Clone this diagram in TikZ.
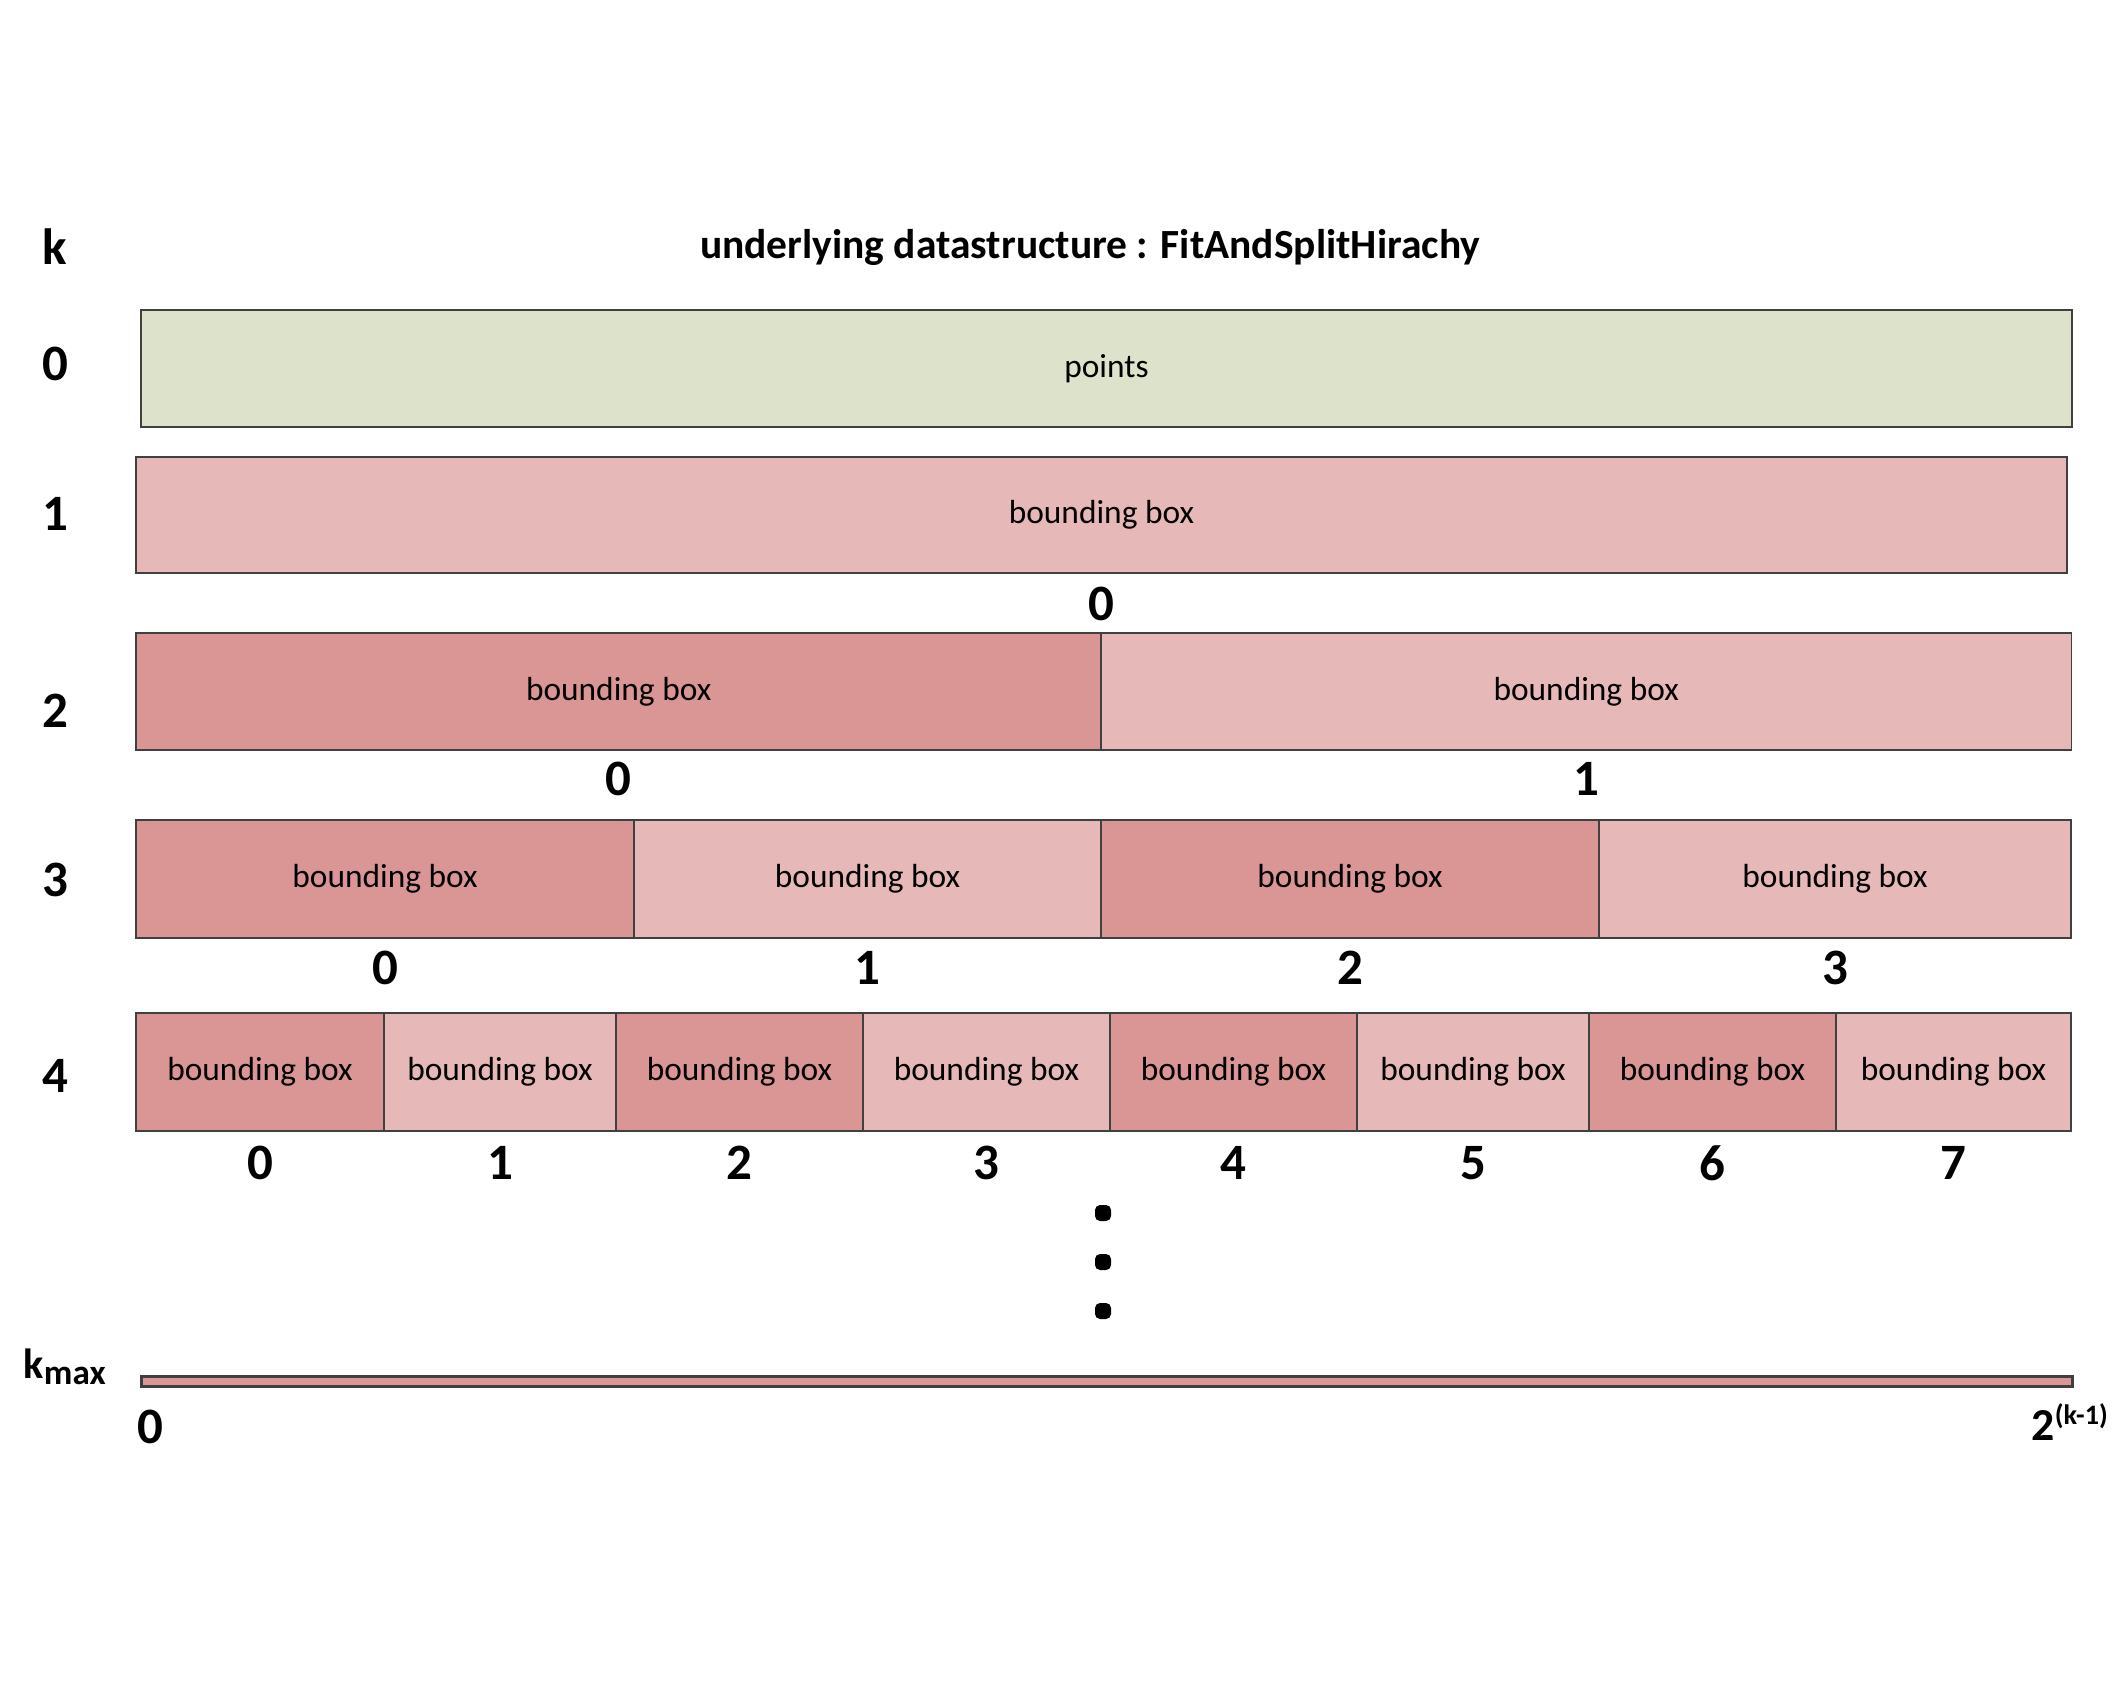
\documentclass[tikz,border=0pt]{standalone}
\usepackage{fontspec}
\setmainfont{Carlito}
\usepackage{tikz}
\usepackage{xcolor}
\usetikzlibrary{positioning, calc}

\definecolor{ptgreen}{HTML}{DDE2CB}
\definecolor{bblight}{HTML}{E6B8B7}
\definecolor{bbdark}{HTML}{DA9694}
\definecolor{edgegray}{HTML}{404040}

\tikzset{
  cell/.style={draw=edgegray, line width=0.5pt, rectangle, inner sep=0pt,
    anchor=north west, font=\fontsize{9.5}{11}\selectfont},
  idx/.style={font=\bfseries\fontsize{14.5}{16}\selectfont, inner sep=0pt},
  lvl/.style={font=\bfseries\fontsize{14.5}{16}\selectfont, inner sep=0pt},
  dotmark/.style={rectangle, rounded corners=0.05cm, fill=black, inner sep=0pt, minimum size=0.16cm}
}

\begin{document}
\begin{tikzpicture}[x=0.01cm, y=-0.01cm]
\useasboundingbox (0,0) rectangle (2116,1683);

% Title and level column
\node[lvl] (klab) at (55,247) {k};
\node[font=\bfseries\fontsize{11.8}{14}\selectfont, inner sep=0pt] (title) at (1090,247) {underlying datastructure : FitAndSplitHirachy};
\foreach \k/\y in {0/364, 1/514, 2/711, 3/880, 4/1076} {
  \node[lvl] (k\k) at (55,\y) {\k};
}
\node[font=\bfseries\fontsize{12}{14}\selectfont, inner sep=0pt, anchor=base west] (kmax) at (23,1378) {k\textsubscript{\fontsize{10}{11}\selectfont max}};

% Level 0
\node[cell, fill=ptgreen, minimum width=19.30cm, minimum height=1.17cm] (r0c0) at (140,309) {points};

% Level 1
\node[cell, fill=bblight, minimum width=19.30cm, minimum height=1.16cm] (r1c0) at (135,456) {bounding box};
\node[idx] (n1c0) at ([yshift=-0.30cm]r1c0.south) {0};

% Level 2
\foreach \l/\r/\c [count=\i from 0] in {135/1100/bbdark, 1100/2070/bblight} {
  \pgfmathsetmacro\w{(\r-\l)/100}
  \node[cell, fill=\c, minimum width=\w cm, minimum height=1.17cm] (r2c\i) at (\l,632) {bounding box};
  \node[idx] (n2c\i) at ([yshift=-0.28cm]r2c\i.south) {\i};
}

% Level 3
\foreach \l/\r/\c [count=\i from 0] in {135/633/bbdark, 633/1100/bblight, 1100/1598/bbdark, 1598/2070/bblight} {
  \pgfmathsetmacro\w{(\r-\l)/100}
  \node[cell, fill=\c, minimum width=\w cm, minimum height=1.18cm] (r3c\i) at (\l,819) {bounding box};
  \node[idx] (n3c\i) at ([yshift=-0.29cm]r3c\i.south) {\i};
}

% Level 4
\foreach \l/\r/\c [count=\i from 0] in {135/383/bbdark, 383/615/bblight, 615/862/bbdark, 862/1109/bblight,
    1109/1356/bbdark, 1356/1588/bblight, 1588/1835/bbdark, 1835/2070/bblight} {
  \pgfmathsetmacro\w{(\r-\l)/100}
  \node[cell, fill=\c, minimum width=\w cm, minimum height=1.18cm] (r4c\i) at (\l,1012) {bounding box};
  \node[idx] (n4c\i) at ([yshift=-0.31cm]r4c\i.south) {\i};
}

% Ellipsis
\foreach \y [count=\i] in {1213, 1262, 1311} {
  \node[dotmark] (dot\i) at (1103,\y) {};
}

% Last level
\node[cell, fill=bbdark, line width=0.8pt, minimum width=19.30cm, minimum height=0.10cm] (rmax) at (140,1375) {};
\node[idx] (nmax0) at (150,1427) {0};
\node[font=\bfseries\fontsize{13}{15}\selectfont, inner sep=0pt, anchor=base west] (nmaxn) at (2031,1440) {2\textsuperscript{\fontsize{8}{9}\selectfont(k-1)}};
\end{tikzpicture}
\end{document}
